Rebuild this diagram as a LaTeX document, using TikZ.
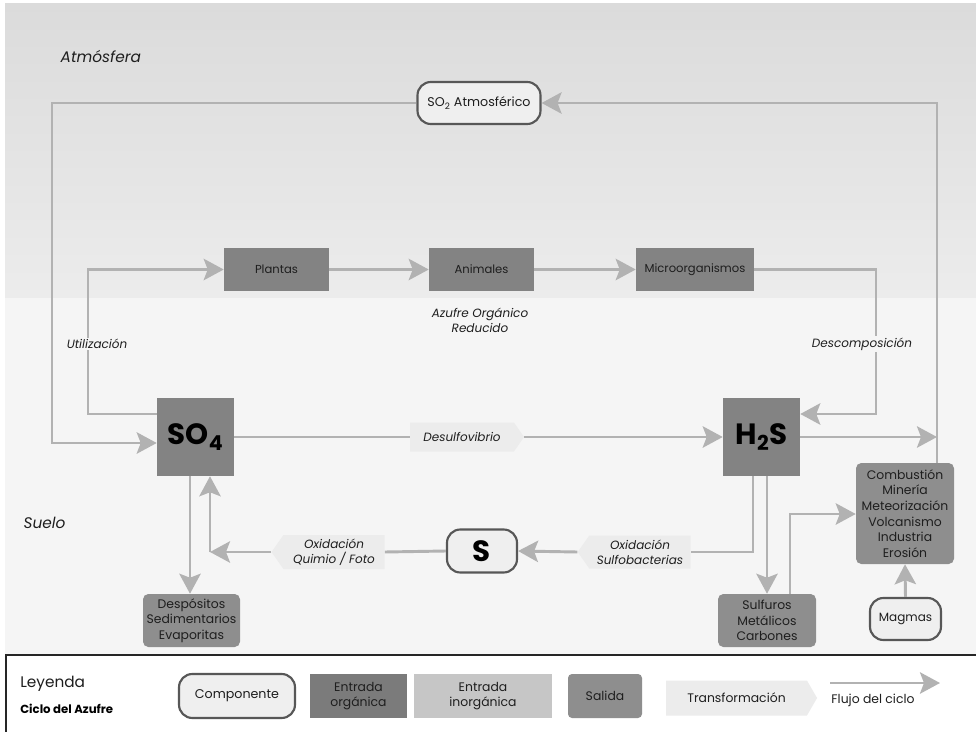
\documentclass[tikz,border=0pt]{standalone}
\usepackage{fontspec}
\setmainfont{Poppins}
\usetikzlibrary{arrows.meta,shapes.symbols}
\definecolor{flowc}{HTML}{B2B2B2}
\definecolor{orgc}{HTML}{838383}
\definecolor{lorgc}{HTML}{7B7B7B}
\definecolor{salc}{HTML}{8E8E8E}
\definecolor{inorgc}{HTML}{C6C6C6}
\definecolor{compfill}{HTML}{EFEFEF}
\definecolor{compdraw}{HTML}{575757}
\definecolor{transc}{HTML}{ECECEC}
\definecolor{bgtop}{HTML}{DBDBDB}
\definecolor{bgmid}{HTML}{ECECEC}
\definecolor{bgbot}{HTML}{F5F5F5}
\definecolor{txt}{HTML}{1E1E1E}
\tikzset{
  comp/.style={draw=compdraw, line width=1.6pt, fill=compfill, rounded corners=10pt, text=txt, inner sep=0pt, font=\fontsize{9.5}{11}\selectfont},
  org/.style={fill=orgc, text=txt, inner sep=0pt, font=\fontsize{8.7}{10}\selectfont},
  big/.style={fill=orgc, text=black, inner sep=0pt, font=\fontsize{22}{24}\selectfont\bfseries},
  sal/.style={fill=salc, text=txt, rounded corners=4pt, inner sep=0pt, align=center, font=\fontsize{9.3}{11.7}\selectfont},
  trans/.style={signal, fill=transc, text=txt, inner sep=0pt, align=center, font=\fontsize{9}{11.2}\selectfont\itshape},
  lab/.style={text=txt, align=center, font=\fontsize{9}{11.2}\selectfont\itshape},
  conn/.style={draw=flowc, line width=2.2pt},
  flow/.style={conn, -{Stealth[length=15pt,width=16pt,inset=3pt]}},
}
\begin{document}
\begin{tikzpicture}[x=0.75pt,y=-0.75pt]
\useasboundingbox (0,0) rectangle (976,732);
\fill[white] (0,0) rectangle (976,732);
\shade[top color=bgtop, bottom color=bgmid] (5,3) rectangle (976,298);
\fill[bgbot] (5,298) rectangle (976,654);
\draw[line width=1.5pt, black!85] (976,655) -- (5.5,655) -- (5.5,732);

% region labels
\node[anchor=west, text=txt, font=\fontsize{11.5}{13}\selectfont\itshape] (atm) at (56,57) {Atmósfera};
\node[anchor=west, text=txt, font=\fontsize{11.5}{13}\selectfont\itshape] (suelo) at (19,523) {Suelo};

% nodes
\node[comp, minimum width=92.25pt, minimum height=31.5pt] (so2) at (479,103) {SO\textsubscript{2} Atmosférico};
\node[org, minimum width=78.75pt, minimum height=32.25pt] (plantas) at (276.5,269.5) {Plantas};
\node[org, minimum width=78.75pt, minimum height=32.25pt] (animales) at (481.5,269.5) {Animales};
\node[org, minimum width=88.5pt, minimum height=32.25pt] (micro) at (695,269.5) {Microorganismos};
\node[lab] (azufre) at (480,320) {Azufre Orgánico\\Reducido};

\node[big, minimum width=57.75pt, minimum height=58.5pt] (so4) at (195.5,437) {SO\textsubscript{4}};
\node[big, minimum width=57.75pt, minimum height=58.5pt] (h2s) at (761.5,437) {H\textsubscript{2}S};

\node[trans, signal to=east, signal pointer angle=110, minimum width=85.5pt, minimum height=21.75pt] (desulfo) at (462,437) {Desulfovibrio};
\node[trans, signal to=west, signal pointer angle=110, minimum width=84.75pt, minimum height=25.5pt] (quimio) at (334,552) {Oxidación\\Quimio / Foto};
\node[trans, signal to=west, signal pointer angle=110, minimum width=84.75pt, minimum height=24.75pt] (sulfo) at (640,552) {Oxidación\\Sulfobacterias};
\node[comp, minimum width=52.5pt, minimum height=32.25pt, font=\fontsize{22}{24}\selectfont\bfseries, text=black] (S) at (482,551) {S};

\node[sal, minimum width=73.5pt, minimum height=75.75pt] (combus) at (905,513.5) {Combustión\\Minería\\Meteorización\\Volcanismo\\Industria\\Erosión};
\node[sal, minimum width=73.5pt, minimum height=39.75pt] (sulfuros) at (767,620.5) {Sulfuros\\Metálicos\\Carbones};
\node[sal, minimum width=72.75pt, minimum height=39.75pt] (despo) at (191.5,620.5) {Despósitos\\Sedimentarios\\Evaporitas};
\node[comp, minimum width=53.25pt, minimum height=31.5pt, font=\fontsize{9}{11}\selectfont] (magmas) at (905.5,619) {Magmas};

% coordinates
\coordinate (rx) at (937,0);
\coordinate (lx) at (52,443);
\coordinate (ux) at (88,414);
\coordinate (dx) at (876,414);
\coordinate (hx) at (937,437);
\coordinate (sx) at (753,552);
\coordinate (qx) at (210,552);
\coordinate (dpx) at (190,0);
\coordinate (hsx) at (767,0);
\coordinate (sux) at (790,514);

% connectors
\draw[flow] (combus.north -| rx) |- (so2.east);
\draw[flow] (so2.west) -| (lx) -- (lx -| so4.west);
\draw[flow] (ux -| so4.west) -- (ux) |- (plantas.west);
\draw[flow] (plantas.east) -- (animales.west);
\draw[flow] (animales.east) -- (micro.west);
\draw[flow] (micro.east) -| (dx) -- (dx -| h2s.east);
\draw[conn] (so4.east) -- (desulfo.west);
\draw[flow] (desulfo.east) -- (h2s.west);
\draw[flow] (h2s.east) -- (hx);
\draw[conn] (sx |- h2s.south) -- (sx) -- (sulfo.east);
\draw[flow] (sulfo.west) -- (S.east);
\draw[conn] (S.west) -- (quimio.east);
\draw[flow] (quimio.west) -- (qx);
\draw[flow] (qx) -- (qx |- so4.south);
\draw[flow] (so4.south -| dpx) -- (despo.north -| dpx);
\draw[flow] (h2s.south -| hsx) -- (sulfuros.north -| hsx);
\draw[flow] (sulfuros.north -| sux) -- (sux) -- (sux -| combus.west);
\draw[flow] (magmas.north) -- (combus.south);

% labels on lines
\node[lab, fill=bgbot, inner sep=1pt] (util) at (97,344) {Utilización};
\node[lab, fill=bgbot, inner sep=1pt] (desc) at (862,344) {Descomposición};

% legend
\node[anchor=west, text=txt, inner sep=0pt, font=\fontsize{11.5}{13}\selectfont] (ley) at (20,684) {Leyenda};
\node[anchor=west, text=black, inner sep=0pt, font=\fontsize{8.8}{10}\selectfont\bfseries] (ciclo) at (20,709) {Ciclo del Azufre};
\node[comp, minimum width=87pt, minimum height=33pt] (lcomp) at (237,696) {Componente};
\node[org, fill=lorgc, minimum width=72.75pt, minimum height=33pt, align=center, font=\fontsize{9.3}{11}\selectfont] (lorg) at (358.5,696) {Entrada\\orgánica};
\node[org, fill=inorgc, minimum width=103.5pt, minimum height=33pt, align=center, font=\fontsize{9.3}{11}\selectfont] (linorg) at (483,696) {Entrada\\inorgánica};
\node[sal, minimum width=55.5pt, minimum height=33pt, rounded corners=3pt] (lsal) at (605,696) {Salida};
\node[trans, signal to=east, signal pointer angle=120, minimum width=113.25pt, minimum height=26.25pt, font=\fontsize{9.3}{11}\selectfont] (ltrans) at (736.5,698) {Transformación};
\coordinate (f1) at (830,683);
\coordinate (f2) at (940,683);
\draw[flow] (f1) -- (f2);
\node[text=txt, inner sep=0pt, font=\fontsize{9.3}{11}\selectfont] (lflujo) at (873,700) {Flujo del ciclo};
\end{tikzpicture}
\end{document}
